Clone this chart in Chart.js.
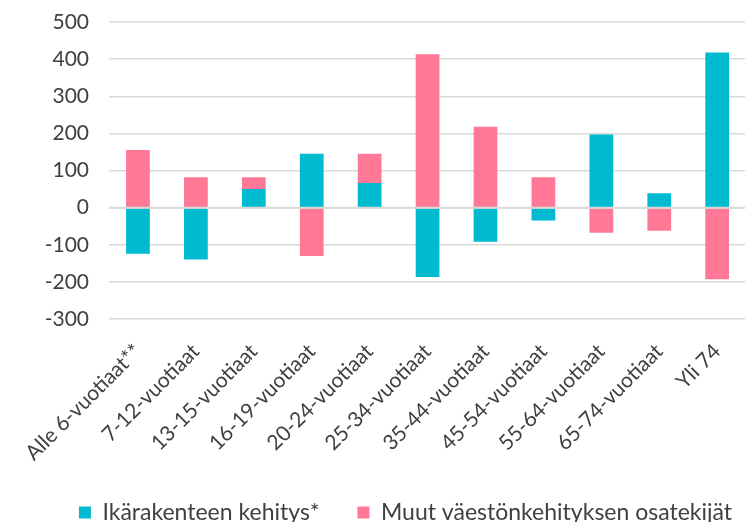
<!DOCTYPE html>
<html>
<head>
<meta charset="utf-8">
<script src="https://cdn.jsdelivr.net/npm/chart.js@4"></script>
<style>
  html, body { margin: 0; padding: 0; background: #fff; overflow: hidden; }
  #wrap { width: 745px; height: 522px; overflow: hidden; }
</style>
</head>
<body>
<div id="wrap"><canvas id="chart" width="755" height="534"></canvas></div>
<script>
const categories = [
  'Alle 6-vuotiaat**', '7-12-vuotiaat', '13-15-vuotiaat', '16-19-vuotiaat',
  '20-24-vuotiaat', '25-34-vuotiaat', '35-44-vuotiaat', '45-54-vuotiaat',
  '55-64-vuotiaat', '65-74-vuotiaat', 'Yli 74'
];
const ikarakenne = [-124, -140, 50, 145, 66, -187, -92, -35, 197, 39, 418];
const muut = [155, 82, 32, -130, 79, 413, 218, 82, -68, -62, -193];
const yTicks = [-300, -200, -100, 0, 100, 200, 300, 400, 500];

const textColor = '#404040';
const fontFamily = 'Lato, "Open Sans", sans-serif';

// zero line drawn over the bars, like the gap in the original
const zeroLine = {
  id: 'zeroLine',
  afterDatasetsDraw(chart) {
    const y = chart.scales.y.getPixelForValue(0);
    const { left, right } = chart.chartArea;
    const ctx = chart.ctx;
    ctx.save();
    ctx.strokeStyle = '#D9D9D9';
    ctx.lineWidth = 2;
    ctx.beginPath();
    ctx.moveTo(left, y);
    ctx.lineTo(right, y);
    ctx.stroke();
    ctx.restore();
  }
};

// legend sits a bit right of centre in the original
const legendShift = {
  id: 'legendShift',
  afterLayout(chart) {
    chart.legend.left += 28;
    chart.legend.right += 28;
  }
};

new Chart(document.getElementById('chart'), {
  type: 'bar',
  data: {
    labels: categories,
    datasets: [{
      label: 'Ikärakenteen kehitys*',
      data: ikarakenne,
      backgroundColor: '#00BBD0'
    }, {
      label: 'Muut väestönkehityksen osatekijät',
      data: muut,
      backgroundColor: '#FF7896'
    }]
  },
  options: {
    responsive: false,
    animation: false,
    categoryPercentage: 1,
    barPercentage: 0.41,
    layout: { padding: { left: 0, top: 22, right: 0, bottom: 0 } },
    scales: {
      x: {
        stacked: true,
        grid: { display: false, drawTicks: false },
        border: { display: false },
        afterFit(axis) { axis.height = 144; },
        ticks: {
          color: textColor,
          font: { family: fontFamily, size: 21 },
          minRotation: 45,
          maxRotation: 45,
          padding: 20,
          autoSkip: false
        }
      },
      y: {
        stacked: true,
        min: yTicks[0],
        max: yTicks[yTicks.length - 1],
        afterBuildTicks(axis) {
          axis.ticks = yTicks.map(v => ({ value: v }));
        },
        afterFit(axis) {
          axis.width = 109;
          axis.paddingTop = 0;
          axis.paddingBottom = 0;
        },
        grid: { color: '#D9D9D9', lineWidth: 1.5, drawTicks: false },
        border: { display: false },
        ticks: {
          color: textColor,
          font: { family: fontFamily, size: 21 },
          padding: 20
        }
      }
    },
    plugins: {
      legend: {
        position: 'bottom',
        labels: {
          color: textColor,
          font: { family: fontFamily, size: 23 },
          boxWidth: 12,
          boxHeight: 12,
          padding: 38
        }
      },
      tooltip: { enabled: false }
    }
  },
  plugins: [zeroLine, legendShift]
});
</script>
</body>
</html>
